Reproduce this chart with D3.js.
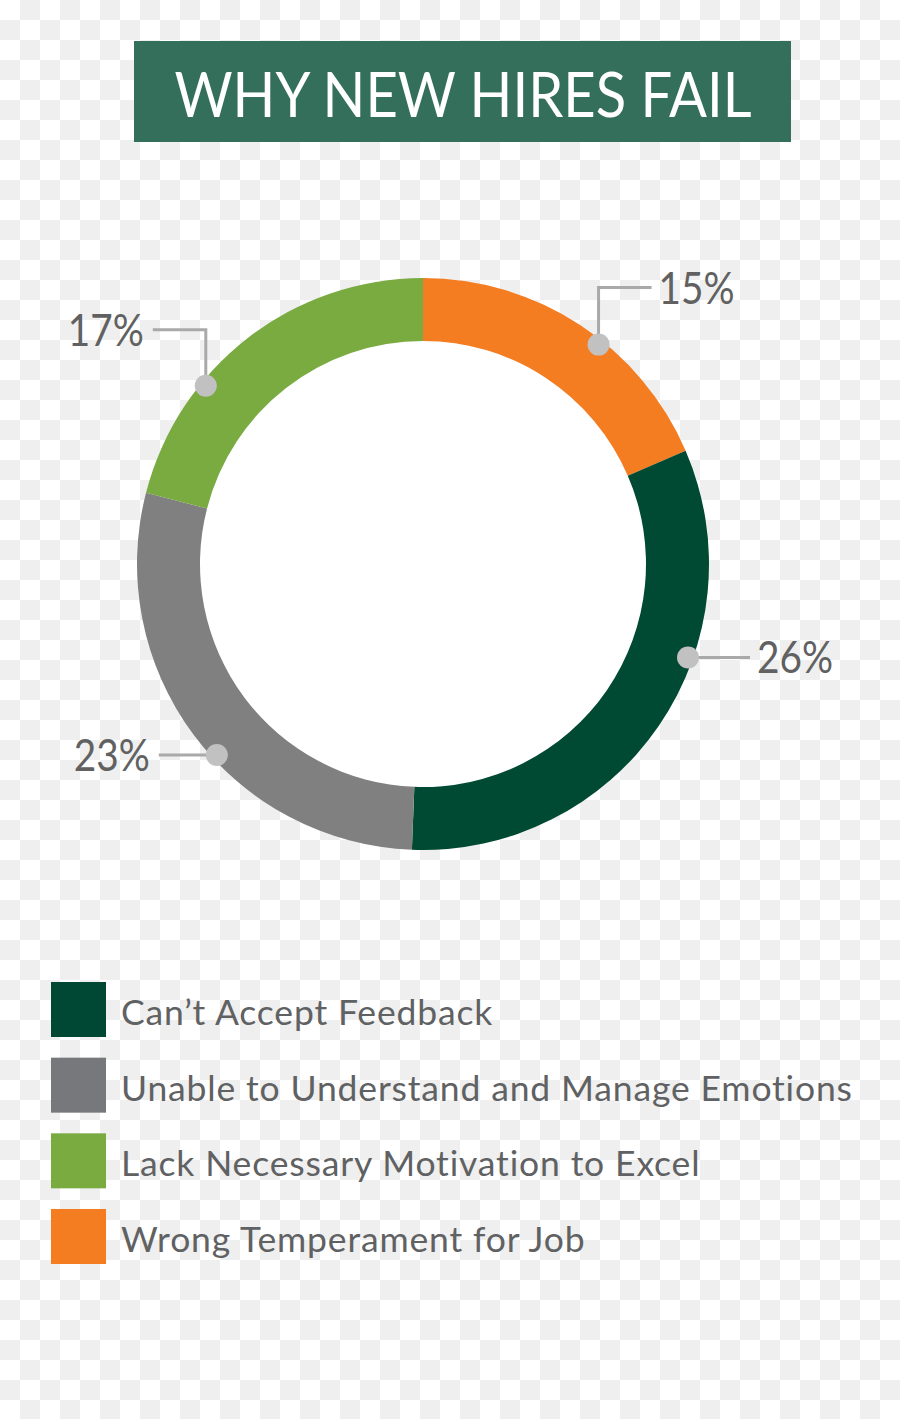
<!DOCTYPE html>
<html>
<head>
<meta charset="utf-8">
<script src="https://cdn.jsdelivr.net/npm/d3@7"></script>
<style>
  html, body { margin: 0; padding: 0; }
  svg { display: block; }
</style>
</head>
<body>
<svg></svg>
<script>
// chart data
let title = 'WHY NEW HIRES FAIL';
let categories = ['Can’t Accept Feedback', 'Unable to Understand and Manage Emotions', 'Lack Necessary Motivation to Excel', 'Wrong Temperament for Job'];
let values = [26, 23, 17, 15];
let valueLabels = ['26%', '23%', '17%', '15%'];
// ring order, clockwise from 12 o'clock
let ringOrder = [3, 0, 1, 2];

let ringColors = ['#004a33', '#808080', '#79ab40', '#f47c21'];
let legendColors = ['#004833', '#77787b', '#79ab40', '#f47c21'];

let width = 900;
let height = 1419;
let cx = 423;
let cy = 564;
let outerR = 286;
let innerR = 223;

let svg = d3.select('svg')
    .attr('width', width)
    .attr('height', height);

// transparent-looking checker background
let defs = svg.append('defs');
let pat = defs.append('pattern')
    .attr('id', 'checker')
    .attr('width', 40)
    .attr('height', 40)
    .attr('patternUnits', 'userSpaceOnUse');
pat.append('rect').attr('width', 40).attr('height', 40).attr('fill', '#ffffff');
pat.append('rect').attr('x', 20).attr('y', 0).attr('width', 20).attr('height', 20).attr('fill', '#efefef');
pat.append('rect').attr('x', 0).attr('y', 20).attr('width', 20).attr('height', 20).attr('fill', '#efefef');

svg.append('rect')
    .attr('width', width)
    .attr('height', height)
    .attr('fill', 'url(#checker)');

// title banner
svg.append('rect')
    .attr('x', 134)
    .attr('y', 41)
    .attr('width', 657)
    .attr('height', 101)
    .attr('fill', '#346f5b');

svg.append('text')
    .attr('x', 463)
    .attr('y', 117)
    .attr('text-anchor', 'middle')
    .attr('fill', '#ffffff')
    .attr('font-family', 'Lato, sans-serif')
    .attr('font-size', 62)
    .attr('textLength', 577)
    .attr('lengthAdjust', 'spacingAndGlyphs')
    .text(title);

// donut
let ringData = ringOrder.map((i) => ({ index: i, value: values[i] }));

let pie = d3.pie()
    .sort(null)
    .value((d) => d.value);

let arc = d3.arc()
    .innerRadius(innerR)
    .outerRadius(outerR);

let arcs = pie(ringData);

let chart = svg.append('g')
    .attr('transform', 'translate(' + cx + ',' + cy + ')');

chart.append('circle')
    .attr('r', innerR + 1)
    .attr('fill', '#ffffff');

chart.selectAll('path.slice')
    .data(arcs)
    .enter()
    .append('path')
    .attr('class', 'slice')
    .attr('d', arc)
    .attr('fill', (d) => ringColors[d.data.index]);

// callouts: where along the slice the dot sits, and how the leader bends
let callouts = {
    3: { at: 0.58, rise: -57, run: 53 },
    0: { at: 0.37, rise: 0, run: 62 },
    1: { at: 0.44, rise: 0, run: -58 },
    2: { at: 0.33, rise: -56, run: -53 }
};

let dotR = 281;
let calloutG = chart.append('g');

arcs.forEach((d) => {
    let c = callouts[d.data.index];
    let a = d.startAngle + (d.endAngle - d.startAngle) * c.at;
    let x0 = Math.sin(a) * dotR;
    let y0 = -Math.cos(a) * dotR;
    let y1 = y0 + c.rise;
    let x1 = x0 + c.run;

    calloutG.append('path')
        .attr('d', d3.line()([[x0, y0], [x0, y1], [x1, y1]]))
        .attr('fill', 'none')
        .attr('stroke', '#a9a9a9')
        .attr('stroke-width', 3);

    calloutG.append('circle')
        .attr('cx', x0)
        .attr('cy', y0)
        .attr('r', 11)
        .attr('fill', '#c1c1c1');

    let label = calloutG.append('text')
        .attr('y', y1 + 16)
        .attr('fill', '#616161')
        .attr('font-family', 'Lato, sans-serif')
        .attr('font-size', 45)
        .attr('textLength', 76)
        .attr('lengthAdjust', 'spacingAndGlyphs')
        .text(valueLabels[d.data.index]);

    if (c.run > 0) {
        label.attr('x', x1 + 7);
    } else {
        label.attr('x', x1 - 9 - 76);
    }
});

// legend
let legendY = d3.scaleBand()
    .domain(categories)
    .range([982, 1264])
    .paddingInner(0.273)
    .paddingOuter(0);

let legend = svg.append('g');

legend.selectAll('rect')
    .data(categories)
    .enter()
    .append('rect')
    .attr('x', 51)
    .attr('y', (d) => legendY(d))
    .attr('width', 55)
    .attr('height', 55)
    .attr('fill', (d, i) => legendColors[i]);

legend.selectAll('text')
    .data(categories)
    .enter()
    .append('text')
    .attr('x', 121)
    .attr('y', (d) => legendY(d) + 43)
    .attr('fill', '#606163')
    .attr('font-family', 'Lato, sans-serif')
    .attr('font-size', 35.5)
    .attr('letter-spacing', 0.85)
    .text((d) => d);
</script>
</body>
</html>
